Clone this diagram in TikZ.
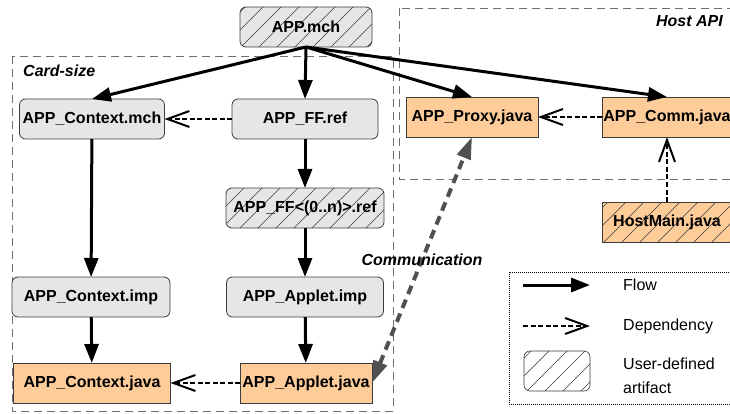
\documentclass[tikz,border=0pt]{standalone}
\usepackage{fontspec}
\setmainfont{Liberation Sans}
\usetikzlibrary{arrows.meta,patterns.meta}
\definecolor{boxgray}{RGB}{230,230,230}
\definecolor{javaorange}{RGB}{253,204,153}
\definecolor{framegray}{RGB}{110,110,110}
\definecolor{commgray}{RGB}{80,80,80}
\definecolor{edgegray}{RGB}{60,60,60}

\tikzdeclarepattern{
  name=hatch,
  type=uncolored,
  bottom left={(-.5pt,-.5pt)},
  top right={(18.5pt,18.5pt)},
  tile size={(18pt,18pt)},
  code={\draw[line width=0.6pt] (-.5pt,-.5pt) -- (18.5pt,18.5pt);}
}

\begin{document}
\begin{tikzpicture}[
    x=1pt, y=-1pt,
    txt/.style={font=\bfseries\fontsize{16}{19}\selectfont},
    spec/.style={rectangle, draw=edgegray, line width=0.8pt, fill=boxgray, rounded corners=6pt, inner sep=0pt, outer sep=0pt, minimum height=40pt, txt},
    java/.style={rectangle, draw=edgegray, line width=0.8pt, fill=javaorange, inner sep=0pt, outer sep=0pt, minimum height=40pt, txt},
    hatched/.style={postaction={pattern=hatch, pattern color=edgegray}},
    frame/.style={draw=framegray, line width=0.8pt, dash pattern=on 8pt off 5pt},
    flow/.style={-{Triangle[length=19pt,width=14pt]}, line width=3pt},
    dep/.style={-{Straight Barb[length=22pt,width=16pt,line width=2pt]}, line width=2.6pt, dash pattern=on 5pt off 2.5pt},
    comm/.style={{Triangle[length=22pt,width=14pt]}-{Triangle[length=22pt,width=14pt]}, line width=4pt, commgray, dash pattern=on 9pt off 6pt},
    legend/.style={font=\fontsize{16}{24}\selectfont, anchor=west, align=left, inner sep=0pt}
  ]
    \useasboundingbox (0,0) rectangle (730,414);

    % frames
    \draw[frame] (12,56) rectangle (393,411);
    \node[txt, font=\bfseries\itshape\fontsize{16}{19}\selectfont, anchor=west, inner sep=0pt] at (23,71) (cardlabel) {Card-size};
    \draw[frame] (399,8) rectangle (760,179);
    \node[txt, font=\bfseries\itshape\fontsize{16}{19}\selectfont, anchor=east, inner sep=0pt] at (723,21) (hostlabel) {Host API};

    % artifacts
    \node[spec, hatched, minimum width=132pt] at (306,27)  (mch)     {APP.mch};
    \node[spec, minimum width=145pt]          at (92,119)  (ctxmch)  {APP\_Context.mch};
    \node[spec, minimum width=146pt]          at (305,119) (ffref)   {APP\_FF.ref};
    \node[spec, hatched, minimum width=158pt] at (305,208) (ffn)     {APP\_FF<(0..n)>.ref};
    \node[spec, minimum width=158pt]          at (91,297)  (ctximp)  {APP\_Context.imp};
    \node[spec, minimum width=157pt]          at (305,297) (appimp)  {APP\_Applet.imp};
    \node[java, minimum width=157pt]          at (92,383)  (ctxjava) {APP\_Context.java};
    \node[java, minimum width=132pt]          at (306,383) (appjava) {APP\_Applet.java};
    \node[java, minimum width=132pt]          at (472,117) (proxy)   {APP\_Proxy.java};
    \node[java, minimum width=130pt]          at (667,117) (hcomm)   {APP\_Comm.java};
    \node[java, hatched, minimum width=130pt] at (667,222) (hostmain) {HostMain.java};

    % flow
    \draw[flow] (mch.south) -- (ctxmch.north);
    \draw[flow] (mch.south) -- (ffref.north);
    \draw[flow] (mch.south) -- (proxy.north);
    \draw[flow] (mch.south) -- (hcomm.north);
    \draw[flow] (ctxmch) -- (ctximp);
    \draw[flow] (ffref) -- (ffn);
    \draw[flow] (ffn) -- (appimp);
    \draw[flow] (ctximp) -- (ctxjava);
    \draw[flow] (appimp) -- (appjava);

    % dependencies
    \draw[dep] (ffref) -- (ctxmch);
    \draw[dep] (hcomm) -- (proxy);
    \draw[dep] (hostmain) -- (hcomm);
    \draw[dep] (appjava) -- (ctxjava);

    % communication
    \draw[comm] (appjava.east) -- (proxy.south)
      node[midway, text=black, font=\bfseries\itshape\fontsize{16}{19}\selectfont] (commlabel) {Communication};

    % legend
    \draw[line width=1pt, dash pattern=on 1pt off 1pt] (509,272) rectangle (760,404);
    \coordinate (flowa) at (523,285);
    \coordinate (flowb) at (590,285);
    \coordinate (depa)  at (523,326);
    \coordinate (depb)  at (590,326);
    \draw[flow] (flowa) -- (flowb);
    \draw[dep] (depa) -- (depb);
    \node[spec, hatched, fill=white, line width=0.6pt, minimum width=66pt] at (557,371) (sample) {};
    \node[legend] at (623,376) (usertext) {User-defined\\artifact};
    \node[legend] at (623,285) (flowtext) {Flow};
    \node[legend] at (623,326) (deptext) {Dependency};
  \end{tikzpicture}
\end{document}
